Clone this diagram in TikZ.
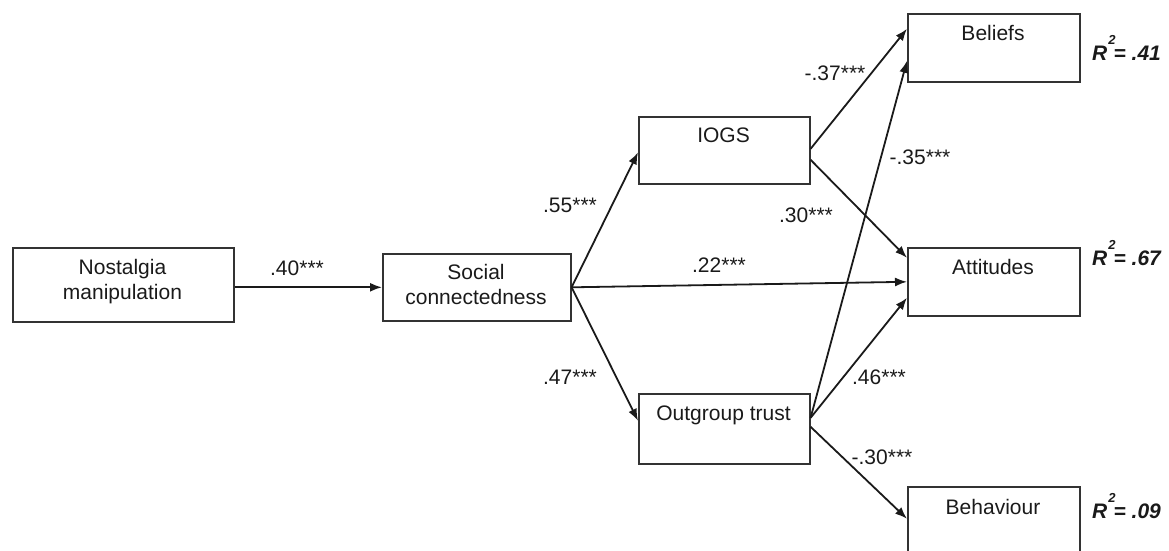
\documentclass[tikz,border=0pt]{standalone}
\usepackage{fontspec}
\setmainfont{Liberation Sans}
\usetikzlibrary{arrows.meta}
\definecolor{ink}{HTML}{1A1A1A}
\definecolor{boxline}{HTML}{333333}
\tikzset{
  box/.style={draw=boxline, line width=1.6pt, inner sep=0pt, anchor=north west},
  boxtext/.style={font=\fontsize{21}{25}\selectfont, text=ink, inner sep=0pt, align=center},
  coef/.style={font=\fontsize{21}{25}\selectfont, text=ink, inner sep=0pt, anchor=base},
  rsq/.style={font=\fontsize{21}{25}\selectfont\bfseries\itshape, text=ink, inner sep=0pt, anchor=base west},
  path/.style={draw=ink, line width=1.8pt, -{Latex[length=12pt,width=9pt]}}
}
\newcommand{\rtwo}[1]{R\kern1pt\raisebox{16pt}{\fontsize{13}{13}\selectfont 2}\kern-2pt= #1}
\begin{document}
\begin{tikzpicture}[x=1pt,y=-1pt]
\useasboundingbox (0,0) rectangle (1169,550);
% boxes
\node[box, minimum width=221pt, minimum height=74pt] (nost) at (12,247) {};
\node[box, minimum width=188pt, minimum height=67pt] (soc) at (382,253) {};
\node[box, minimum width=171pt, minimum height=67pt] (iogs) at (638,116) {};
\node[box, minimum width=171pt, minimum height=70pt] (out) at (638,393) {};
\node[box, minimum width=172pt, minimum height=68pt] (bel) at (907,13) {};
\node[box, minimum width=172pt, minimum height=68pt] (att) at (907,247) {};
\node[box, minimum width=172pt, minimum height=70pt] (beh) at (907,486) {};
% box texts
\node[boxtext] (nost-t) at (122.5,281.5) {Nostalgia\\manipulation};
\node[boxtext] (soc-t) at (476,284.5) {Social\\connectedness};
\node[boxtext, anchor=base] (iogs-t) at (723.5,142.5) {IOGS};
\node[boxtext, anchor=base] (out-t) at (723.5,420.5) {Outgroup trust};
\node[boxtext, anchor=base] (bel-t) at (993,40.5) {Beliefs};
\node[boxtext, anchor=base] (att-t) at (993,274.5) {Attitudes};
\node[boxtext, anchor=base] (beh-t) at (993,514.5) {Behaviour};
% R squared
\node[rsq] (r-bel) at (1092,60) {\rtwo{.41}};
\node[rsq] (r-att) at (1092,265) {\rtwo{.67}};
\node[rsq] (r-beh) at (1092,518) {\rtwo{.09}};
% paths
\draw[path] (nost.east |- soc.west) -- (soc.west);
\draw[path] (soc.east) -- ([yshift=-2pt]iogs.west);
\draw[path] (soc.east) -- ([yshift=8pt]out.west);
\draw[path] (soc.east) -- (att.west);
\draw[path] ([yshift=1.5pt]iogs.east) -- ([yshift=19pt]bel.west);
\draw[path] ([yshift=-9.5pt]iogs.east) -- ([yshift=24pt]att.west);
\draw[path] ([yshift=11pt]out.east) -- ([yshift=-13pt]bel.west);
\draw[path] ([yshift=11pt]out.east) -- ([yshift=-16pt]att.west);
\draw[path] ([yshift=2pt]out.east) -- ([yshift=3pt]beh.west);
% coefficients
\node[coef] (c40) at (297,275) {.40***};
\node[coef] (c55) at (570,212) {.55***};
\node[coef] (c47) at (570,384) {.47***};
\node[coef] (c22) at (719,272) {.22***};
\node[coef] (c30) at (806,222) {.30***};
\node[coef] (c35) at (920,164) {-.35***};
\node[coef] (c37) at (835,80) {-.37***};
\node[coef] (c46) at (879,384) {.46***};
\node[coef] (c30b) at (882,464) {-.30***};
\end{tikzpicture}
\end{document}
